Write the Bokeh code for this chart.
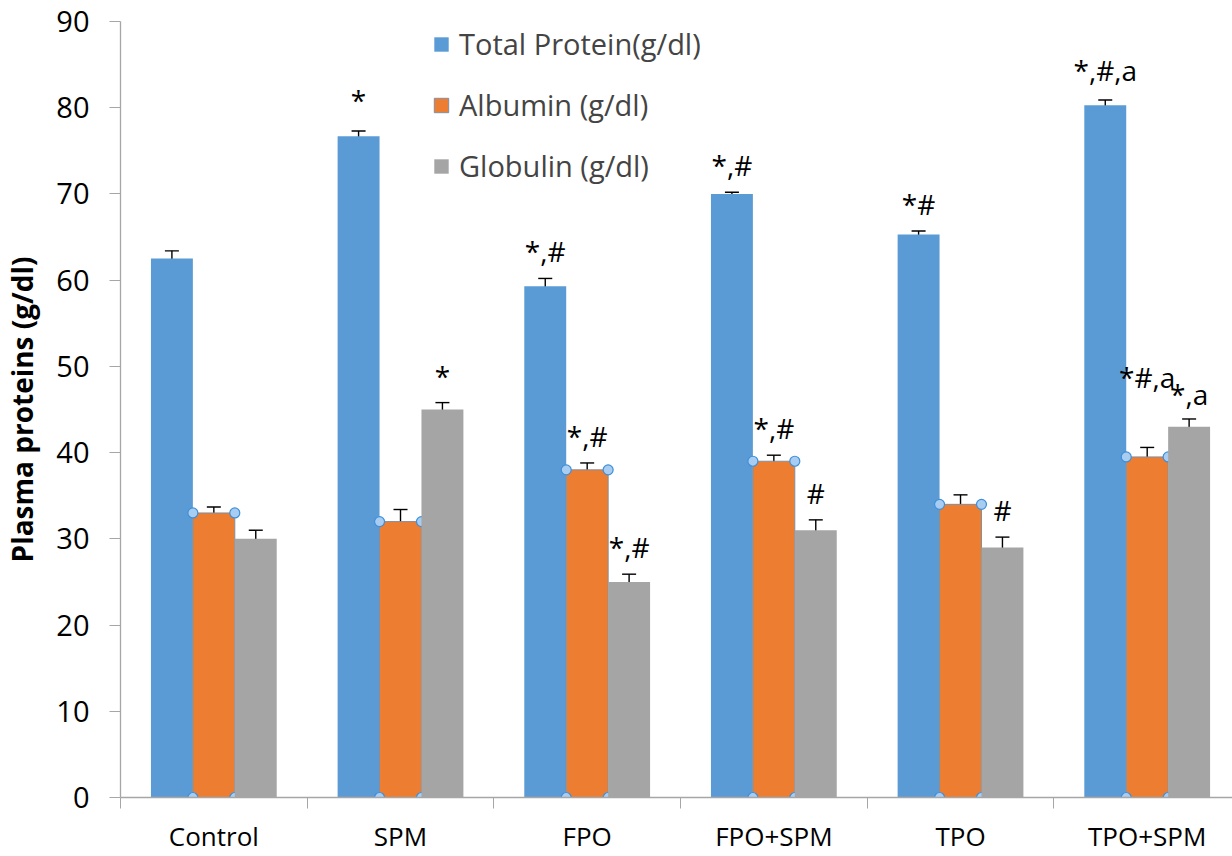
from bokeh.plotting import figure
from bokeh.models import (ColumnDataSource, Range1d, FixedTicker, Whisker, TeeHead,
                          Legend, LegendItem, LabelSet)
from bokeh.core.properties import value
from bokeh.embed import file_html
from bokeh.resources import INLINE

categories = ["Control", "SPM", "FPO", "FPO+SPM", "TPO", "TPO+SPM"]
series = ["Total Protein(g/dl)", "Albumin (g/dl)", "Globulin (g/dl)"]
total_protein = [62.5, 76.7, 59.3, 70.0, 65.3, 80.3]
albumin = [33.0, 32.0, 38.0, 39.0, 34.0, 39.5]
globulin = [30.0, 45.0, 25.0, 31.0, 29.0, 43.0]
total_protein_err = [0.9, 0.6, 0.9, 0.2, 0.4, 0.6]
albumin_err = [0.7, 1.4, 0.8, 0.7, 1.1, 1.1]
globulin_err = [1.0, 0.8, 0.9, 1.2, 1.2, 0.9]
total_protein_sig = ["", "*", "*,#", "*,#", "*#", "*,#,a"]
albumin_sig = ["", "", "*,#", "*,#", "", "*#,a"]
globulin_sig = ["", "*", "*,#", "#", "#", "*,a"]
y_ticks = [0, 10, 20, 30, 40, 50, 60, 70, 80, 90]

colors = ["#5B9BD5", "#ED7D31", "#A5A5A5"]
FONT = "Open Sans"

p = figure(width=1232, height=856, output_backend="svg", toolbar_location=None,
           x_range=Range1d(0, 5.957), y_range=Range1d(0, 90),
           min_border_left=118, min_border_right=0, min_border_top=21,
           min_border_bottom=59)
p.outline_line_color = None
p.grid.grid_line_color = None
p.background_fill_color = "white"

bw = 0.2246
offsets = [-bw, 0.0, bw]
vals = [total_protein, albumin, globulin]
errs = [total_protein_err, albumin_err, globulin_err]
sigs = [total_protein_sig, albumin_sig, globulin_sig]
sig_extra = [[0, 4, 0, 0, 0, 3], [0, 0, 0, 0, 0, 43], [0, 0, 0, 0, 0, -2]]

renderers = []
for k in range(3):
    xs = [i + 0.5 + offsets[k] for i in range(len(categories))]
    up = [v + e for v, e in zip(vals[k], errs[k])]
    lo = [v - e for v, e in zip(vals[k], errs[k])]
    src = ColumnDataSource(dict(x=xs, top=vals[k], upper=up, lower=lo,
                                sig=sigs[k],
                                yoff=[16 + s for s in sig_extra[k]]))
    r = p.vbar(x="x", top="top", bottom=0, width=bw, source=src,
               fill_color=colors[k],
               line_color="#7f8fa0" if k == 1 else None, line_width=1)
    renderers.append(r)
    w = Whisker(base="x", upper="upper", lower="lower", source=src,
                line_color="black", line_width=1.4,
                upper_head=TeeHead(size=14, line_color="black", line_width=1.4),
                lower_head=TeeHead(size=14, line_color="black", line_width=1.4))
    p.add_layout(w)
    labels = LabelSet(x="x", y="upper", text="sig", source=src, y_offset="yoff",
                      text_align="center", text_baseline="alphabetic",
                      text_font=value(FONT), text_font_size="28px",
                      text_color="black")
    p.add_layout(labels)
    if k == 1:
        hx, hy = [], []
        for x, v in zip(xs, vals[k]):
            hx += [x - bw / 2, x + bw / 2, x - bw / 2, x + bw / 2]
            hy += [0, 0, v, v]
        p.scatter(hx, hy, size=10, fill_color="#a9cdf0", line_color="#3d8fdc",
                  line_width=1.2)

legend = Legend(items=[LegendItem(label=series[k], renderers=[renderers[k]]) for k in range(3)],
                location=(312, 612), orientation="vertical",
                glyph_width=18, glyph_height=18, label_standoff=9,
                label_text_font=FONT, label_text_font_size="29px",
                label_height=30, spacing=22, padding=0, margin=0,
                border_line_color=None, background_fill_alpha=0)
p.add_layout(legend)

# axes
xa = p.xaxis[0]
xa.ticker = FixedTicker(ticks=[i + 0.5 for i in range(len(categories))],
                        minor_ticks=list(range(len(categories) + 1)))
xa.major_label_overrides = {i + 0.5: c for i, c in enumerate(categories)}
xa.major_tick_line_color = None
xa.major_tick_out = 0
xa.major_tick_in = 0
xa.minor_tick_out = 11
xa.minor_tick_in = 0
xa.minor_tick_line_color = "#A6A6A6"
xa.axis_line_color = "#A6A6A6"
xa.axis_line_width = 1.3
xa.major_label_standoff = 9
xa.major_label_text_font = FONT
xa.major_label_text_font_size = "26px"
xa.major_label_text_color = "black"

ya = p.yaxis[0]
ya.ticker = FixedTicker(ticks=y_ticks, minor_ticks=[])
ya.major_tick_out = 11
ya.major_tick_in = 0
ya.major_tick_line_color = "#A6A6A6"
ya.axis_line_color = "#A6A6A6"
ya.axis_line_width = 1.3
ya.major_label_standoff = 20
ya.major_label_text_font = FONT
ya.major_label_text_font_size = "29px"
ya.major_label_text_color = "black"
ya.axis_label = "Plasma proteins (g/dl)"
ya.axis_label_text_font = FONT
ya.axis_label_text_font_style = "bold"
ya.axis_label_text_font_size = "28px"
ya.axis_label_text_color = "black"
ya.axis_label_standoff = 12

open("out.html", "w").write(file_html(p, INLINE))
